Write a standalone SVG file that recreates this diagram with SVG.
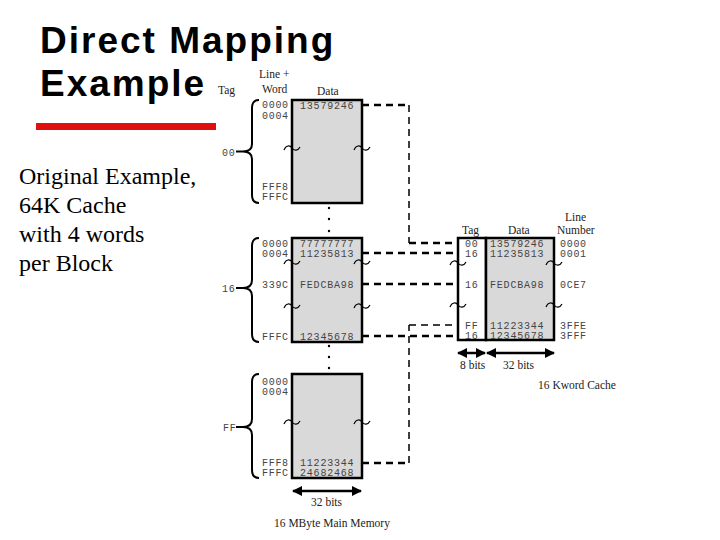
<svg xmlns="http://www.w3.org/2000/svg" width="720" height="540" viewBox="0 0 720 540">
<style>
.title{font-family:"Liberation Sans",Arial,sans-serif;font-weight:bold;font-size:37px;letter-spacing:2px;fill:#000}
.body{font-family:"Liberation Serif","Times New Roman",serif;font-size:24px;fill:#000}
.hdr{font-family:"Liberation Serif","Times New Roman",serif;font-size:11.5px;fill:#222}
.mono{font-family:"Liberation Mono","Courier New",monospace;font-size:10px;letter-spacing:0.7px;fill:#444}
.data{font-family:"Liberation Mono","Courier New",monospace;font-size:10px;letter-spacing:0.8px;fill:#444}
.box{fill:#d9d9d9;stroke:#000;stroke-width:2.5}
.wbox{fill:#fff;stroke:#000;stroke-width:2.5}
.brace{fill:none;stroke:#000;stroke-width:2}
.sq{fill:none;stroke:#000;stroke-width:1.2}
.dk{fill:none;stroke:#000;stroke-width:2.5;stroke-dasharray:7 5}
.dn{fill:none;stroke:#000;stroke-width:1.5;stroke-dasharray:7 5}
.arr{stroke:#000;stroke-width:2.5;marker-start:url(#ah);marker-end:url(#ah)}
</style>
<defs>
<marker id="ah" viewBox="0 0 10 10" refX="9" refY="5" markerUnits="userSpaceOnUse" markerWidth="11" markerHeight="10" orient="auto-start-reverse">
<path d="M0,0 L10,5 L0,10 z" fill="#000"/>
</marker>
<path id="sqg" class="sq" d="M-8,2 C-6,-3 -2,-3 0,0 C2,3 6,3 8,-1"/>
</defs>
<rect width="720" height="540" fill="#fff"/>

<g id="title">
<text class="title" x="40" y="53">Direct Mapping</text>
<text class="title" x="40" y="96">Example</text>
<rect x="36" y="123" width="180" height="7" fill="#e01010"/>
</g>

<g id="note">
<text class="body" x="19" y="184">Original Example,</text>
<text class="body" x="19" y="213">64K Cache</text>
<text class="body" x="19" y="242">with 4 words</text>
<text class="body" x="19" y="271">per Block</text>
</g>

<g id="connectors">
<path class="dk" d="M362,105 H409"/>
<path class="dn" d="M409,105 V243"/>
<path class="dk" d="M409,243 H458"/>
<path class="dk" d="M362,253 H458"/>
<path class="dk" d="M362,284 H458"/>
<path class="dk" d="M362,336 H458"/>
<path class="dk" d="M362,463 H409"/>
<path class="dn" d="M409,463 V325"/>
<path class="dn" d="M409,325 H458"/>
</g>

<g id="mem-headers">
<text class="hdr" x="218" y="94">Tag</text>
<text class="hdr" x="259" y="78">Line +</text>
<text class="hdr" x="262" y="93">Word</text>
<text class="hdr" x="317" y="95">Data</text>
</g>

<g id="mem-block-00">
<rect class="box" x="292" y="100" width="70" height="103"/>
<path class="brace" d="M259,100 Q252,100 252,108 L252,144 Q252,151.5 243,151.5 Q252,151.5 252,159 L252,195 Q252,203 259,203 M236,151.5 H243"/>
<text class="mono" x="222" y="155.5">00</text>
<text class="mono" x="262" y="108">0000</text>
<text class="mono" x="262" y="119">0004</text>
<text class="mono" x="262" y="190">FFF8</text>
<text class="mono" x="262" y="200">FFFC</text>
<text class="data" x="300" y="109">13579246</text>
<use href="#sqg" x="292" y="148"/>
<use href="#sqg" x="362" y="148"/>
</g>

<g id="dots">
<circle cx="329" cy="208" r="1.2"/>
<circle cx="329" cy="219" r="1.2"/>
<circle cx="329" cy="231" r="1.2"/>
<circle cx="329" cy="346" r="1.2"/>
<circle cx="329" cy="357" r="1.2"/>
<circle cx="329" cy="368" r="1.2"/>
</g>

<g id="mem-block-16">
<rect class="box" x="292" y="238" width="70" height="104"/>
<path class="brace" d="M259,238 Q252,238 252,246 L252,280 Q252,288 243,288 Q252,288 252,296 L252,334 Q252,342 259,342 M236,288 H243"/>
<text class="mono" x="222" y="292">16</text>
<text class="mono" x="262" y="247">0000</text>
<text class="mono" x="262" y="257">0004</text>
<text class="mono" x="262" y="288">339C</text>
<text class="mono" x="262" y="339.5">FFFC</text>
<text class="data" x="300" y="247">77777777</text>
<text class="data" x="300" y="257">11235813</text>
<text class="data" x="300" y="288">FEDCBA98</text>
<text class="data" x="300" y="339.5">12345678</text>
<use href="#sqg" x="292" y="262"/>
<use href="#sqg" x="362" y="262"/>
<use href="#sqg" x="292" y="306"/>
<use href="#sqg" x="362" y="306"/>
</g>

<g id="mem-block-FF">
<rect class="box" x="292" y="374" width="70" height="104"/>
<path class="brace" d="M259,374 Q252,374 252,382 L252,419 Q252,427 243,427 Q252,427 252,435 L252,470 Q252,478 259,478 M236,427 H243"/>
<text class="mono" x="223" y="431">FF</text>
<text class="mono" x="262" y="384.5">0000</text>
<text class="mono" x="262" y="394.5">0004</text>
<text class="mono" x="262" y="466">FFF8</text>
<text class="mono" x="262" y="476">FFFC</text>
<text class="data" x="300" y="466">11223344</text>
<text class="data" x="300" y="476">24682468</text>
<use href="#sqg" x="292" y="422"/>
<use href="#sqg" x="362" y="422"/>
</g>

<g id="mem-footer">
<line class="arr" x1="293" y1="491" x2="361" y2="491"/>
<text class="hdr" x="311" y="506">32 bits</text>
<text class="hdr" x="274" y="527">16 MByte Main Memory</text>
</g>

<g id="cache">
<text class="hdr" x="462" y="234">Tag</text>
<text class="hdr" x="508" y="234">Data</text>
<text class="hdr" x="565" y="221">Line</text>
<text class="hdr" x="557" y="234">Number</text>
<rect class="wbox" x="458" y="238" width="28" height="102"/>
<rect class="box" x="486" y="238" width="68" height="102"/>
<text class="mono" x="465" y="247">00</text>
<text class="mono" x="465" y="257">16</text>
<text class="mono" x="465" y="288">16</text>
<text class="mono" x="465" y="329">FF</text>
<text class="mono" x="465" y="339">16</text>
<text class="data" x="490" y="247">13579246</text>
<text class="data" x="490" y="257">11235813</text>
<text class="data" x="490" y="288">FEDCBA98</text>
<text class="data" x="490" y="329">11223344</text>
<text class="data" x="490" y="339">12345678</text>
<text class="mono" x="560" y="247">0000</text>
<text class="mono" x="560" y="257">0001</text>
<text class="mono" x="560" y="288">0CE7</text>
<text class="mono" x="560" y="329">3FFE</text>
<text class="mono" x="560" y="339">3FFF</text>
<use href="#sqg" x="458" y="263"/>
<use href="#sqg" x="554" y="263"/>
<use href="#sqg" x="458" y="305"/>
<use href="#sqg" x="554" y="305"/>
</g>

<g id="cache-footer">
<line class="arr" x1="458" y1="353" x2="485" y2="353"/>
<line class="arr" x1="487" y1="353" x2="554" y2="353"/>
<text class="hdr" x="460" y="369">8 bits</text>
<text class="hdr" x="503" y="369">32 bits</text>
<text class="hdr" x="538" y="389">16 Kword Cache</text>
</g>
</svg>
